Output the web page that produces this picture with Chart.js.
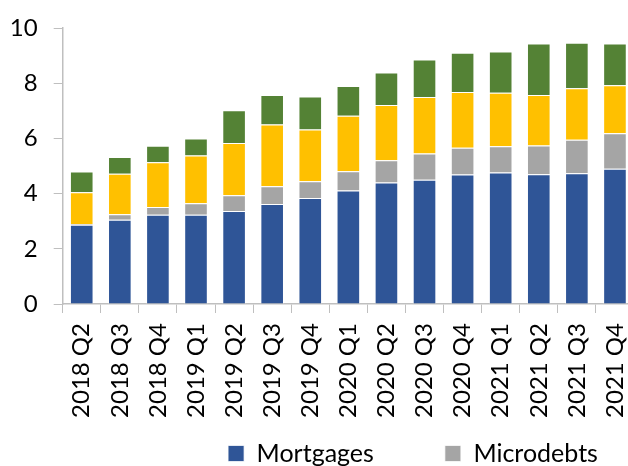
<!DOCTYPE html>
<html>
<head>
<meta charset="utf-8">
<script src="https://cdn.jsdelivr.net/npm/chart.js@4/dist/chart.umd.min.js"></script>
<style>
    html, body { margin: 0; padding: 0; width: 628px; height: 466px; overflow: hidden; background: #fff; }
    #wrap { width: 826px; height: 476px; }
</style>
</head>
<body>
<div id="wrap"><canvas id="debtChart"></canvas></div>
<script>
// Quarterly stock of loans, stacked by type
const quarters = ['2018 Q2', '2018 Q3', '2018 Q4', '2019 Q1', '2019 Q2', '2019 Q3', '2019 Q4',
    '2020 Q1', '2020 Q2', '2020 Q3', '2020 Q4', '2021 Q1', '2021 Q2', '2021 Q3', '2021 Q4'];

const mortgages  = [2.87, 3.05, 3.23, 3.23, 3.37, 3.62, 3.84, 4.11, 4.40, 4.50, 4.69, 4.76, 4.70, 4.74, 4.90];
const microdebts = [0.03, 0.20, 0.28, 0.42, 0.57, 0.65, 0.61, 0.70, 0.81, 0.95, 0.97, 0.96, 1.04, 1.21, 1.29];
const series3    = [1.15, 1.47, 1.63, 1.73, 1.89, 2.23, 1.87, 2.01, 2.00, 2.05, 2.02, 1.93, 1.83, 1.87, 1.74];
const series4    = [0.75, 0.61, 0.59, 0.62, 1.19, 1.07, 1.20, 1.08, 1.18, 1.36, 1.42, 1.50, 1.87, 1.65, 1.51];

const yTicks = [0, 2, 4, 6, 8, 10];

const axisGray = '#bfbfbf';
const FONT = 'Lato';

function barSet(label, data, color) {
    return {
        label: label,
        data: data,
        backgroundColor: color,
        borderColor: 'rgba(255,255,255,0.75)',
        borderWidth: 1,
        barPercentage: 0.62,
        categoryPercentage: 1
    };
}

// drop the label overhang so layout.padding alone sets the plot top
function noOverhang(s) {
    s.paddingTop = 0;
    s.paddingBottom = 0;
}

const ctx = document.getElementById('debtChart').getContext('2d');
new Chart(ctx, {
    type: 'bar',
    data: {
        labels: quarters,
        datasets: [
            barSet('Mortgages', mortgages, '#2f5597'),
            barSet('Microdebts', microdebts, '#a5a5a5'),
            barSet('Series 3', series3, '#ffc000'),
            barSet('Series 4', series4, '#548235')
        ]
    },
    options: {
        responsive: true,
        maintainAspectRatio: false,
        animation: false,
        layout: { padding: { top: 28 } },
        scales: {
            x: {
                stacked: true,
                grid: { display: true, drawOnChartArea: false, tickLength: 9, color: axisGray, offset: true },
                border: { color: axisGray, width: 1.5 },
                ticks: {
                    color: '#000',
                    font: { family: FONT, size: 24 },
                    minRotation: 90,
                    maxRotation: 90,
                    padding: 10,
                    autoSkip: false
                },
                afterFit: (s) => { s.height = 116; noOverhang(s); }
            },
            y: {
                stacked: true,
                min: 0,
                max: 10,
                afterBuildTicks: (s) => { s.ticks = yTicks.map(v => ({ value: v })); },
                grid: { display: true, drawOnChartArea: false, tickLength: 9, color: axisGray },
                border: { color: axisGray, width: 1.5 },
                ticks: {
                    color: '#000',
                    font: { family: FONT, size: 24 },
                    padding: 16
                },
                afterFit: (s) => { s.width = 62.7; noOverhang(s); }
            },
            // empty axis that keeps the plot area narrower than the canvas
            pad: {
                type: 'linear',
                position: 'right',
                display: true,
                grid: { display: false },
                border: { display: false },
                ticks: { display: false },
                afterFit: (s) => { s.width = 192; noOverhang(s); }
            }
        },
        plugins: {
            legend: {
                display: true,
                position: 'bottom',
                labels: {
                    color: '#000',
                    font: { family: FONT, size: 25 },
                    boxWidth: 16,
                    boxHeight: 16,
                    padding: 21,
                    generateLabels: (chart) => {
                        const items = Chart.defaults.plugins.legend.labels.generateLabels(chart)
                            .filter(item => item.datasetIndex < 2);
                        // wider gap after the first entry
                        items[0].text = items[0].text + '\u2003\u2003\u2002';
                        return items;
                    }
                }
            },
            tooltip: { enabled: false }
        }
    }
});
</script>
</body>
</html>
